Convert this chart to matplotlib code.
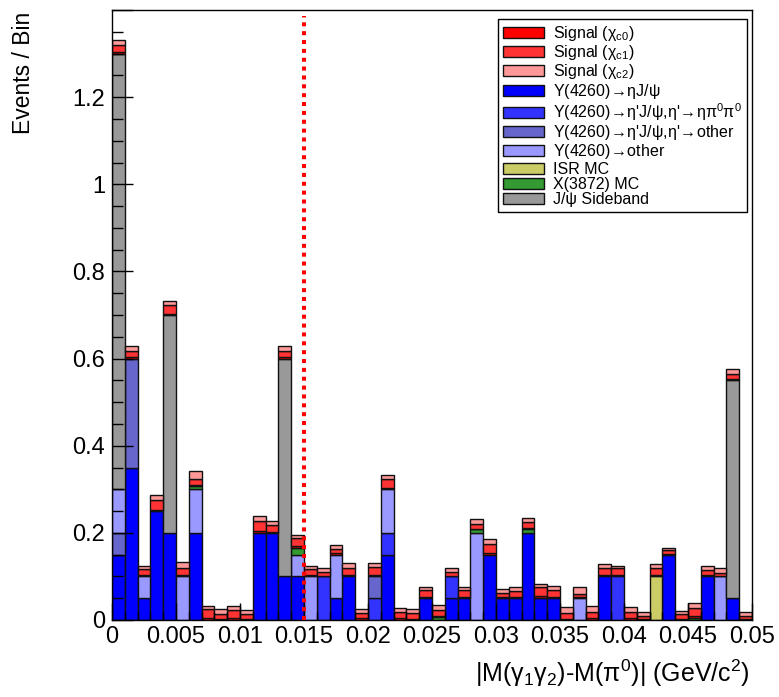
import numpy as np
import matplotlib
matplotlib.use("Agg")
import matplotlib.pyplot as plt
from matplotlib.patches import Patch
from matplotlib.ticker import MultipleLocator

plt.rcParams['font.family'] = ['Liberation Sans', 'DejaVu Sans']
plt.rcParams['mathtext.default'] = 'regular'

# bin edges: 50 bins of 0.001 GeV/c^2
bin_edges = np.linspace(0, 0.05, 51)

# stacked components, bottom to top (values per bin)
eta_jpsi = [0.15, 0.35, 0.05, 0.25, 0.2, 0, 0.2, 0, 0, 0,
            0, 0.2, 0.2, 0.1, 0.1, 0, 0, 0.05, 0.1, 0,
            0, 0.15, 0, 0, 0.05, 0, 0.05, 0.05, 0, 0.15,
            0.05, 0.05, 0.2, 0.05, 0.05, 0, 0, 0, 0.1, 0,
            0, 0, 0, 0.15, 0, 0, 0.1, 0, 0.05, 0]
etap_etapipi = [0, 0, 0, 0, 0, 0, 0, 0, 0, 0,
                0, 0, 0, 0, 0, 0, 0.1, 0, 0, 0,
                0.05, 0.05, 0, 0, 0, 0, 0.05, 0, 0, 0,
                0, 0, 0, 0, 0, 0, 0, 0, 0, 0.1,
                0, 0, 0, 0, 0, 0, 0, 0, 0, 0]
etap_other = [0.05, 0.25, 0, 0, 0, 0, 0, 0, 0, 0,
              0, 0, 0, 0, 0, 0, 0, 0, 0, 0,
              0.05, 0, 0, 0, 0, 0, 0, 0, 0, 0,
              0, 0, 0, 0, 0, 0, 0, 0, 0, 0,
              0, 0, 0, 0, 0, 0, 0, 0, 0, 0]
y_other = [0.1, 0, 0.05, 0, 0, 0.1, 0.1, 0, 0, 0,
           0, 0, 0, 0, 0.05, 0.1, 0, 0.1, 0, 0,
           0, 0.1, 0, 0, 0, 0, 0, 0, 0.2, 0,
           0, 0, 0, 0, 0, 0, 0.05, 0, 0, 0,
           0, 0, 0, 0, 0, 0, 0, 0.1, 0, 0]
isr = [0, 0, 0, 0, 0, 0, 0, 0, 0, 0,
       0, 0, 0, 0, 0, 0, 0, 0, 0, 0,
       0, 0, 0, 0, 0, 0, 0, 0, 0, 0,
       0, 0, 0, 0, 0, 0, 0, 0, 0, 0,
       0, 0, 0.1, 0, 0, 0, 0, 0, 0, 0]
x3872 = [0, 0, 0, 0, 0, 0, 0.008, 0, 0, 0,
         0, 0, 0, 0, 0.016, 0, 0, 0, 0, 0,
         0, 0, 0, 0, 0, 0.007, 0, 0, 0.008, 0,
         0, 0, 0.008, 0, 0, 0, 0, 0, 0, 0,
         0, 0, 0, 0, 0, 0.005, 0, 0, 0, 0]
sideband = [1.0, 0, 0, 0, 0.5, 0, 0, 0, 0, 0,
            0, 0, 0, 0.5, 0, 0, 0, 0, 0, 0,
            0, 0, 0, 0, 0, 0, 0, 0, 0, 0,
            0, 0, 0, 0, 0, 0, 0, 0, 0, 0,
            0, 0, 0, 0, 0, 0, 0, 0, 0.5, 0]
chi_c0 = [0.003, 0.003, 0.004, 0.003, 0.003, 0.003, 0.002, 0.004, 0.003, 0.004,
          0.003, 0.004, 0.003, 0.003, 0.004, 0.003, 0.002, 0.003, 0.003, 0.004,
          0.003, 0.003, 0.004, 0.003, 0.003, 0.003, 0.002, 0.003, 0.002, 0.004,
          0.003, 0.003, 0.003, 0.004, 0.003, 0.003, 0.002, 0.004, 0.003, 0.003,
          0.004, 0.002, 0.003, 0.002, 0.003, 0.004, 0.003, 0.002, 0.003, 0.002]
chi_c1 = [0.017, 0.014, 0.012, 0.022, 0.019, 0.017, 0.014, 0.022, 0.010, 0.019,
          0.010, 0.024, 0.015, 0.015, 0.018, 0.013, 0.009, 0.009, 0.017, 0.013,
          0.018, 0.020, 0.015, 0.014, 0.015, 0.012, 0.009, 0.015, 0.011, 0.020,
          0.010, 0.014, 0.013, 0.022, 0.015, 0.012, 0.008, 0.015, 0.017, 0.016,
          0.014, 0.007, 0.017, 0.008, 0.010, 0.018, 0.011, 0.007, 0.012, 0.007]
chi_c2 = [0.011, 0.012, 0.009, 0.011, 0.011, 0.012, 0.017, 0.007, 0.012, 0.009,
          0.010, 0.010, 0.010, 0.012, 0.008, 0.008, 0.008, 0.010, 0.010, 0.008,
          0.009, 0.009, 0.009, 0.008, 0.008, 0.012, 0.009, 0.008, 0.010, 0.011,
          0.009, 0.009, 0.010, 0.006, 0.010, 0.015, 0.016, 0.013, 0.008, 0.005,
          0.012, 0.010, 0.008, 0.006, 0.008, 0.011, 0.010, 0.011, 0.010, 0.010]

arr = r'$\!\rightarrow\!$'
stack = [
    (eta_jpsi, '#0000ff', "Y(4260)" + arr + "ηJ/ψ"),
    (etap_etapipi, '#3333ff', "Y(4260)" + arr + "η'J/ψ,η'" + arr + "ηπ$^{0}$π$^{0}$"),
    (etap_other, '#6666cc', "Y(4260)" + arr + "η'J/ψ,η'" + arr + "other"),
    (y_other, '#9999ff', "Y(4260)" + arr + "other"),
    (isr, '#cccc66', "ISR MC"),
    (x3872, '#339933', "X(3872) MC"),
    (sideband, '#999999', "J/ψ Sideband"),
    (chi_c0, '#ff0000', "Signal (χ$_{c0}$)"),
    (chi_c1, '#ff3333', "Signal (χ$_{c1}$)"),
    (chi_c2, '#ff9999', "Signal (χ$_{c2}$)"),
]
legend_order = [7, 8, 9, 0, 1, 2, 3, 4, 5, 6]

W, H = 779, 697
fig = plt.figure(figsize=(W / 100, H / 100), dpi=100)
ax = fig.add_axes([112 / W, 1 - 620 / H, 640 / W, 610 / H])

left = bin_edges[:-1]
width = np.diff(bin_edges)
bottom = np.zeros(len(left))
for vals, col, lab in stack:
    v = np.array(vals, dtype=float)
    ec = ['#111111' if x > 0 else 'none' for x in v]
    ax.bar(left, v, width=width, bottom=bottom, align='edge', color=col,
           edgecolor=ec, linewidth=1.0)
    bottom += v

# cut line
ax.axvline(0.015, ymin=0, ymax=0.99, color='#ff0000', lw=2.9,
           linestyle=(0, (1, 1.2)), zorder=5)

ax.set_xlim(0, 0.05)
ax.set_ylim(0, 1.4)
ax.xaxis.set_minor_locator(MultipleLocator(0.001))
ax.yaxis.set_minor_locator(MultipleLocator(0.05))
ax.set_xticks(np.arange(0, 0.0501, 0.005))
ax.set_xticklabels(['0', '0.005', '0.01', '0.015', '0.02', '0.025', '0.03',
                    '0.035', '0.04', '0.045', '0.05'])
ax.set_yticks(np.arange(0, 1.41, 0.2))
ax.set_yticklabels(['0', '0.2', '0.4', '0.6', '0.8', '1', '1.2', ''])
ax.tick_params(axis='both', which='both', direction='in', top=False, right=False,
               labelsize=17, width=1)
ax.tick_params(axis='x', which='major', length=12, pad=4)
ax.tick_params(axis='x', which='minor', length=6)
ax.tick_params(axis='y', which='major', length=15, pad=5)
ax.tick_params(axis='y', which='minor', length=8)
for s in ax.spines.values():
    s.set_linewidth(1.0)

fig.text(24 / W, 1 - 12 / H, 'Events / Bin', rotation=90, ha='center', va='top',
         fontsize=16.5)
fig.text(750 / W, 1 - 682 / H, '|M(γ$_{1}$γ$_{2}$)-M(π$^{0}$)| (GeV/c$^{2}$)',
         ha='right', va='baseline', fontsize=18)

handles = [Patch(facecolor=stack[i][1], edgecolor='#111111', linewidth=1.0)
           for i in legend_order]
labels = [stack[i][2] for i in legend_order]
leg = ax.legend(handles, labels, loc='upper left',
                bbox_to_anchor=(498 / W, 1 - 19 / H), bbox_transform=fig.transFigure,
                borderaxespad=0, fontsize=11.5, frameon=True, fancybox=False,
                edgecolor='black', framealpha=1, handlelength=2.6, handleheight=0.7,
                handletextpad=0.55, labelspacing=0.02, borderpad=0.3)
leg.get_frame().set_linewidth(1.0)

fig.savefig('out.png', dpi=100)
